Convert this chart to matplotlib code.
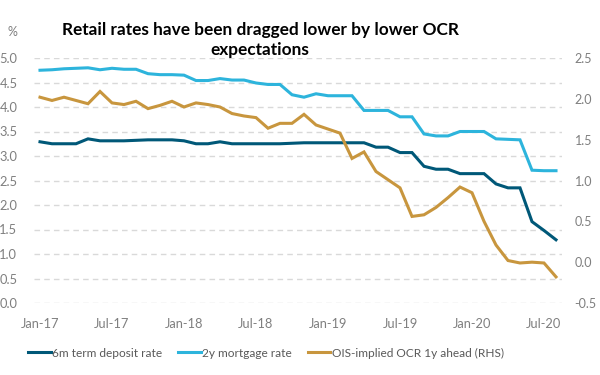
import matplotlib
matplotlib.use("Agg")
import matplotlib.pyplot as plt

plt.rcParams["font.family"] = ["Lato", "DejaVu Sans"]
plt.rcParams["axes.unicode_minus"] = False

# monthly, Jan-17 .. Aug-20
deposit_6m = [
    3.29, 3.25, 3.25, 3.25, 3.35, 3.31, 3.31, 3.31, 3.32, 3.33, 3.33, 3.33,
    3.31, 3.25, 3.25, 3.29, 3.25, 3.25, 3.25, 3.25, 3.25, 3.26, 3.27, 3.27,
    3.27, 3.27, 3.27, 3.27, 3.18, 3.18, 3.07, 3.07, 2.79, 2.73, 2.73, 2.64,
    2.64, 2.64, 2.43, 2.35, 2.35, 1.66, 1.48, 1.29,
]
mortgage_2y = [
    4.75, 4.76, 4.78, 4.79, 4.80, 4.76, 4.79, 4.77, 4.77, 4.68, 4.66, 4.66,
    4.65, 4.54, 4.54, 4.58, 4.55, 4.55, 4.49, 4.46, 4.46, 4.25, 4.20, 4.27,
    4.23, 4.23, 4.23, 3.93, 3.93, 3.93, 3.80, 3.80, 3.45, 3.41, 3.41, 3.50,
    3.50, 3.50, 3.35, 3.34, 3.33, 2.71, 2.70, 2.70,
]
ois_1y_ahead = [
    2.02, 1.98, 2.02, 1.98, 1.94, 2.09, 1.95, 1.93, 1.97, 1.88, 1.92, 1.97,
    1.90, 1.95, 1.93, 1.90, 1.82, 1.79, 1.77, 1.64, 1.70, 1.70, 1.81, 1.68,
    1.63, 1.58, 1.27, 1.35, 1.11, 1.01, 0.91, 0.56, 0.58, 0.67, 0.79, 0.92,
    0.85, 0.50, 0.21, 0.02, -0.01, 0.00, -0.01, -0.18,
]
tick_labels = ["Jan-17", "Jul-17", "Jan-18", "Jul-18", "Jan-19", "Jul-19", "Jan-20", "Jul-20"]
left_ticks = [0.0, 0.5, 1.0, 1.5, 2.0, 2.5, 3.0, 3.5, 4.0, 4.5, 5.0]
right_ticks = [-0.5, 0.0, 0.5, 1.0, 1.5, 2.0, 2.5]

DEPOSIT = "#005878"
MORTGAGE = "#2db4dc"
OIS = "#c8963e"
GREY = "#7f7f7f"

x = list(range(len(deposit_6m)))

fig = plt.figure(figsize=(6, 3.75), dpi=100)
ax = fig.add_axes([34 / 600, 1 - 303 / 375, 528 / 600, 245 / 375])
ax2 = ax.twinx()

l1, = ax.plot(x, deposit_6m, color=DEPOSIT, lw=2.2, solid_joinstyle="miter")
l2, = ax.plot(x, mortgage_2y, color=MORTGAGE, lw=2.2, solid_joinstyle="miter")
l3, = ax2.plot(x, ois_1y_ahead, color=OIS, lw=2.2, solid_joinstyle="miter")

ax.set_xlim(-0.5, len(x) - 0.5)
ax.set_ylim(0, 5)
ax2.set_ylim(-0.5, 2.5)
ax.set_xticks(range(0, len(x), 6))
ax.set_xticklabels(tick_labels)
ax.set_yticks(left_ticks)
ax.set_yticklabels([f"{v:.1f}" for v in left_ticks])
ax2.set_yticks(right_ticks)
ax2.set_yticklabels([f"{v:.1f}" for v in right_ticks])

ax.grid(axis="y", color="#d9d9d9", lw=1, ls=(0, (4, 3)))
for a in (ax, ax2):
    for s in a.spines.values():
        s.set_visible(False)
    a.tick_params(length=0, labelsize=9.3, labelcolor=GREY)
ax.tick_params(axis="y", pad=12)
ax.tick_params(axis="x", pad=11)
ax2.tick_params(axis="y", pad=9, labelsize=9)

fig.text(12 / 600, 1 - 32 / 375, "%", color=GREY, fontsize=9, ha="center", va="center")
fig.text(260 / 600, 1 - 40 / 375,
         "Retail rates have been dragged lower by lower OCR\nexpectations",
         ha="center", va="center", fontsize=12.4, fontweight="bold",
         linespacing=1.35, color="black")

fig.legend([l1, l2, l3],
           ["6m term deposit rate", "2y mortgage rate", "OIS-implied OCR 1y ahead (RHS)"],
           loc="center", bbox_to_anchor=(266 / 600, 1 - 353 / 375), ncol=3,
           frameon=False, fontsize=8.6, handlelength=1.9, handletextpad=0.15,
           columnspacing=1.3, labelcolor="#595959")

fig.savefig("out.png", dpi=100)
